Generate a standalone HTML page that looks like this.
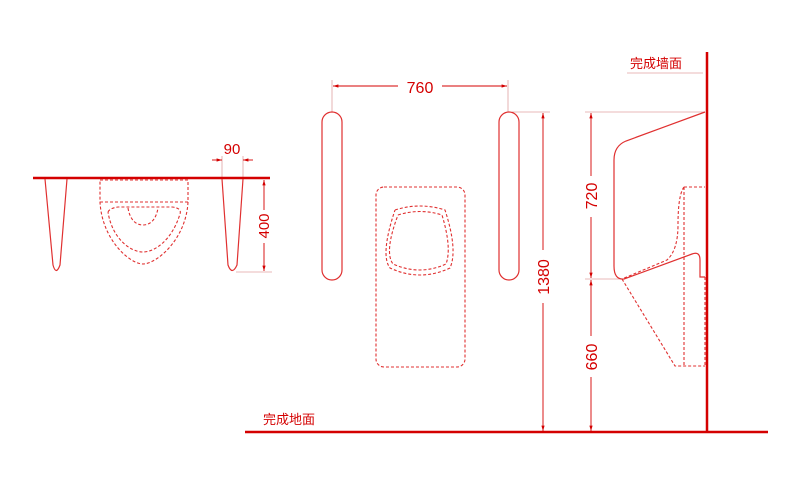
<!DOCTYPE html><html><head><style>body{margin:0;background:#fff}svg{display:block}text{font-family:"Liberation Sans","Noto Sans CJK SC",sans-serif;fill:#d40000}</style></head><body>
<svg width="800" height="487" viewBox="0 0 800 487" xmlns="http://www.w3.org/2000/svg">
<defs><marker id="a" viewBox="0 0 10 10" refX="10" refY="5" markerWidth="6" markerHeight="6" orient="auto-start-reverse"><path d="M0,2L10,5L0,8z" fill="#d40000"/></marker></defs>
<g stroke="#e0a0a0" stroke-width="0.8" fill="none">
<line x1="222" y1="156" x2="222" y2="178"/><line x1="243" y1="156" x2="243" y2="178"/>
<line x1="236" y1="272" x2="272" y2="272"/>
<line x1="332" y1="80" x2="332" y2="112"/><line x1="508" y1="80" x2="508" y2="112"/>
<line x1="512" y1="112" x2="550" y2="112"/>
<line x1="585" y1="112" x2="705" y2="112"/><line x1="585" y1="279" x2="622" y2="279"/>
<line x1="627" y1="73" x2="703" y2="73"/>
</g>
<g stroke="#d40000" stroke-width="0.9" fill="none">
<line x1="212" y1="160" x2="222" y2="160" marker-end="url(#a)"/><line x1="253" y1="160" x2="243" y2="160" marker-end="url(#a)"/>
<line x1="264" y1="180" x2="264" y2="210" marker-start="url(#a)"/><line x1="264" y1="243" x2="264" y2="271" marker-end="url(#a)"/>
<line x1="333" y1="86" x2="398" y2="86" marker-start="url(#a)"/><line x1="442" y1="86" x2="507" y2="86" marker-end="url(#a)"/>
<line x1="543" y1="113" x2="543" y2="250" marker-start="url(#a)"/><line x1="543" y1="303" x2="543" y2="431" marker-end="url(#a)"/>
<line x1="591" y1="113" x2="591" y2="176" marker-start="url(#a)"/><line x1="591" y1="217" x2="591" y2="278" marker-end="url(#a)"/>
<line x1="591" y1="280" x2="591" y2="336" marker-start="url(#a)"/><line x1="591" y1="377" x2="591" y2="431" marker-end="url(#a)"/>
</g>
<g stroke="#d40000" stroke-width="2.5"><line x1="33" y1="178" x2="270" y2="178"/><line x1="245" y1="432" x2="768" y2="432"/><line x1="707" y1="52" x2="707" y2="432"/></g>
<g stroke="#e03030" stroke-width="1.2" fill="none">
<path d="M45,179 L53,265 Q56,276 60,265 L67,179"/>
<path d="M222,179 L228,265 Q232,276 237,265 L243,179"/>
<rect x="322" y="112" width="20" height="168" rx="10"/>
<rect x="499" y="112" width="20" height="168" rx="10"/>
<path d="M705,112 L626,141 Q614,146 614,160 L614,266 Q614,280 624,279 L692,254 Q700,251 700,260 L700,277 L705,277"/>
</g>
<g stroke="#e03030" stroke-width="1.1" fill="none" stroke-dasharray="3,2">
<path d="M100,180 L188,180 L188,202 C186,240 156,264 143,264 C130,264 102,240 100,202 Z"/>
<line x1="100" y1="202" x2="188" y2="202"/>
<path d="M108,212 Q110,208 118,207 L172,207 Q182,208 180,214 C172,240 155,252 143,252 C130,252 112,238 108,212"/>
<path d="M128,208 C130,220 136,225 143,225 C150,225 156,220 158,208"/>
<rect x="376" y="187" width="89" height="180" rx="8"/>
<path d="M395,210 Q420,202 445,210 Q458,250 450,268 Q420,282 390,268 Q380,255 395,210"/>
<path d="M398,215 Q420,208 442,215 Q452,248 446,264 Q420,276 393,264 Q384,252 398,215"/>
<path d="M622,279 L675,366 L705,366"/><line x1="684" y1="187" x2="684" y2="366"/><line x1="684" y1="187" x2="705" y2="187"/>
<path d="M684,187 Q678,195 678,225 Q678,250 667,260 L622,279"/>
<line x1="705" y1="277" x2="705" y2="366"/>
</g>
<text x="232" y="154" font-size="15" text-anchor="middle">90</text>
<text x="0" y="0" font-size="15" text-anchor="middle" transform="translate(269,226) rotate(-90)">400</text>
<text x="420" y="93" font-size="16" text-anchor="middle">760</text>
<text x="0" y="0" font-size="16" text-anchor="middle" transform="translate(549,277) rotate(-90)">1380</text>
<text x="0" y="0" font-size="16" text-anchor="middle" transform="translate(597,196) rotate(-90)">720</text>
<text x="0" y="0" font-size="16" text-anchor="middle" transform="translate(597,357) rotate(-90)">660</text>
<text x="630" y="68" font-size="13">完成墙面</text>
<text x="263" y="424" font-size="13">完成地面</text>
</svg></body></html>
